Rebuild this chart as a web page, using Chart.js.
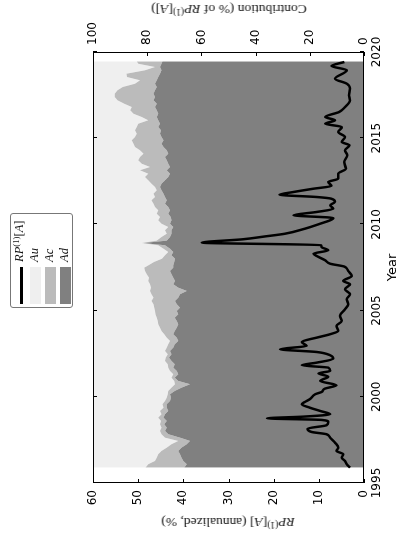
<!DOCTYPE html>
<html>
<head>
<meta charset="utf-8">
<script src="https://cdn.jsdelivr.net/npm/chart.js@4.4.0/dist/chart.umd.min.js"></script>
<style>
  html, body { margin: 0; padding: 0; background: #fff; overflow: hidden; }
  /* the figure is drawn landscape and then turned a quarter turn */
  #wrap { position: absolute; left: 0; top: 0; width: 537px; height: 400px;
          transform-origin: 0 0; transform: translate(0, 537px) rotate(-90deg); }
  #chart { position: absolute; left: 0; top: 0; }
  .serif { font-family: "Liberation Serif", "DejaVu Serif", serif; color: #111; white-space: nowrap; font-weight: normal; }
  .axtitle { position: absolute; font-size: 13.5px; transform: translate(-50%, -50%) rotate(-90deg); }
  sup { font-size: 70%; vertical-align: 0.45em; line-height: 0; }
  #legend { position: absolute; left: 229px; top: 10px; width: 95px; height: 63px;
            border: 1px solid #777; border-radius: 3px; box-sizing: border-box; background: #fff; }
  .row { position: absolute; left: 3px; height: 12px; }
  .row .h { position: absolute; left: 0; width: 37px; }
  .row .lab { position: absolute; left: 42px; top: -3px; font-size: 12.5px; }
</style>
</head>
<body>
<div id="wrap">
  <canvas id="chart" width="537" height="400"></canvas>
  <div class="serif axtitle" style="left:15px; top:228px;"><i>RP</i><sup>(1)</sup>[<i>A</i>] (annualized, %)</div>
  <div class="serif axtitle" style="left:528px; top:229px;">Contribution (% of <i>RP</i><sup>(1)</sup>[<i>A</i>])</div>
  <div id="legend" class="serif">
    <div class="row" style="top:4px;"><span class="h" style="top:5px; height:3px; background:#000;"></span><span class="lab"><i>RP</i><sup>(1)</sup>[<i>A</i>]</span></div>
    <div class="row" style="top:19px;"><span class="h" id="swAu" style="top:0; height:11px;"></span><span class="lab"><i>Au</i></span></div>
    <div class="row" style="top:34px;"><span class="h" id="swAc" style="top:0; height:11px;"></span><span class="lab"><i>Ac</i></span></div>
    <div class="row" style="top:49px;"><span class="h" id="swAd" style="top:0; height:11px;"></span><span class="lab"><i>Ad</i></span></div>
  </div>
</div>
<script>
// RP(1)[A], annualized %
const lineYears = [1995.89, 1996.09, 1996.28, 1996.47, 1996.67, 1996.86, 1997.05, 1997.34, 1997.63, 1997.83,
  1997.96, 1998.15, 1998.35, 1998.54, 1998.66, 1998.75, 1998.85, 1998.99, 1999.18, 1999.37,
  1999.57, 1999.70, 1999.86, 2000.15, 2000.28, 2000.47, 2000.67, 2000.92, 2001.17, 2001.36,
  2001.50, 2001.69, 2001.83, 2001.98, 2002.21, 2002.41, 2002.60, 2002.76, 2002.95, 2003.18,
  2003.43, 2003.63, 2003.82, 2004.11, 2004.40, 2004.69, 2005.08, 2005.37, 2005.66, 2005.95,
  2006.24, 2006.53, 2006.72, 2007.01, 2007.30, 2007.55, 2007.72, 2007.92, 2008.17, 2008.30,
  2008.50, 2008.69, 2008.80, 2008.94, 2009.14, 2009.30, 2009.46, 2009.75, 2010.04, 2010.24,
  2010.37, 2010.53, 2010.72, 2010.91, 2011.11, 2011.30, 2011.49, 2011.59, 2011.72, 2011.88,
  2012.07, 2012.23, 2012.46, 2012.65, 2012.94, 2013.23, 2013.62, 2014.01, 2014.30, 2014.59,
  2014.78, 2015.07, 2015.36, 2015.65, 2015.84, 2016.04, 2016.23, 2016.52, 2016.81, 2017.20,
  2017.49, 2017.87, 2018.16, 2018.45, 2018.94, 2019.19, 2019.42];
const rpValues = [3.1, 3.8, 4.2, 4.9, 4.6, 6.1, 5.7, 6.4, 7.5, 8.3,
  11.6, 12.5, 8.3, 7.9, 9.4, 21.5, 13.4, 7.5, 9.7, 12.0,
  13.8, 13.1, 12.0, 10.8, 9.4, 8.7, 6.1, 9.7, 7.9, 10.1,
  7.5, 7.9, 13.8, 10.5, 6.8, 7.5, 10.5, 18.6, 12.7, 13.8,
  10.5, 7.5, 5.7, 6.1, 4.9, 5.3, 4.2, 3.5, 3.8, 3.1,
  4.2, 3.1, 4.6, 2.7, 3.5, 4.3, 7.5, 8.6, 10.5, 11.2,
  7.9, 9.4, 9.5, 35.9, 26.7, 22.0, 17.5, 13.1, 9.7, 7.5,
  6.8, 15.6, 10.5, 6.8, 7.5, 6.4, 7.2, 10.5, 18.7, 15.6,
  11.2, 7.2, 7.9, 5.7, 5.7, 4.0, 4.4, 3.7, 4.2, 3.2,
  4.9, 4.2, 5.7, 4.9, 8.6, 6.4, 8.6, 5.5, 4.2, 3.1,
  3.3, 3.1, 3.8, 6.4, 3.8, 7.2, 4.35];

// contributions, % of RP(1)[A]
const areaYears = [1995.89, 1996.09, 1996.28, 1996.47, 1996.67, 1996.86, 1997.05, 1997.25, 1997.44, 1997.63,
  1997.83, 1998.02, 1998.21, 1998.41, 1998.60, 1998.79, 1998.99, 1999.18, 1999.37, 1999.57,
  1999.76, 1999.95, 2000.15, 2000.34, 2000.53, 2000.73, 2000.92, 2001.11, 2001.31, 2001.50,
  2001.69, 2001.89, 2002.08, 2002.27, 2002.47, 2002.66, 2002.85, 2003.05, 2003.24, 2003.43,
  2003.63, 2003.82, 2004.01, 2004.21, 2004.40, 2004.59, 2004.79, 2004.98, 2005.17, 2005.37,
  2005.56, 2005.75, 2005.95, 2006.14, 2006.33, 2006.53, 2006.72, 2006.91, 2007.11, 2007.30,
  2007.49, 2007.63, 2007.82, 2008.01, 2008.21, 2008.40, 2008.59, 2008.79, 2008.92, 2009.06,
  2009.27, 2009.46, 2009.66, 2009.85, 2010.04, 2010.24, 2010.43, 2010.62, 2010.82, 2011.01,
  2011.20, 2011.40, 2011.59, 2011.78, 2011.98, 2012.17, 2012.36, 2012.56, 2012.75, 2012.94,
  2013.14, 2013.33, 2013.52, 2013.72, 2013.91, 2014.10, 2014.30, 2014.49, 2014.68, 2014.88,
  2015.07, 2015.26, 2015.46, 2015.65, 2015.84, 2016.04, 2016.23, 2016.42, 2016.62, 2016.81,
  2017.00, 2017.20, 2017.39, 2017.58, 2017.78, 2017.97, 2018.16, 2018.36, 2018.55, 2018.74,
  2018.94, 2019.13, 2019.32, 2019.46];
const Ad = [66.3, 65.4, 66.7, 67.3, 67.9, 68.5, 67.3, 65.4, 64.2, 67.9,
  72.2, 73.4, 72.8, 73.7, 72.8, 74.0, 73.4, 72.2, 72.8, 72.8,
  71.6, 71.2, 71.6, 69.8, 67.3, 64.2, 68.5, 69.8, 68.5, 69.1,
  70.4, 69.8, 71.0, 72.0, 71.0, 71.6, 70.4, 69.8, 68.5, 69.1,
  70.4, 69.8, 69.1, 68.5, 69.1, 69.8, 68.5, 69.1, 67.9, 69.1,
  69.7, 68.5, 67.9, 65.4, 68.5, 70.4, 69.7, 70.4, 71.0, 71.6,
  70.4, 70.4, 70.0, 69.7, 71.0, 70.4, 71.6, 73.4, 81.4, 72.8,
  71.6, 71.0, 71.0, 70.4, 71.6, 71.0, 71.3, 72.2, 71.6, 72.2,
  73.4, 72.8, 73.4, 74.0, 74.7, 75.3, 74.7, 73.4, 72.2, 71.6,
  72.8, 71.6, 72.2, 72.8, 73.4, 72.2, 72.8, 74.0, 74.7, 74.0,
  74.7, 75.3, 74.9, 75.9, 75.3, 75.9, 76.5, 75.9, 76.5, 77.1,
  76.5, 77.7, 77.1, 77.7, 77.1, 76.5, 77.1, 76.5, 75.9, 75.3,
  74.7, 75.3, 74.7, 74.4];
const Ac = [14.3, 14.2, 10.4, 9.2, 8.0, 6.2, 5.5, 5.6, 4.3, 5.5,
  2.5, 1.9, 1.9, 1.6, 2.1, 1.9, 1.3, 3.1, 1.2, 1.6,
  1.8, 1.6, 0.8, 2.4, 3.7, 5.5, 1.5, 1.2, 1.9, 2.5,
  1.8, 2.6, 2.4, 1.2, 1.4, 1.8, 2.4, 2.4, 3.1, 3.7,
  3.3, 4.9, 6.2, 7.4, 7.0, 6.7, 8.4, 8.0, 9.5, 8.6,
  8.7, 9.2, 10.5, 13.6, 10.1, 8.6, 9.9, 8.9, 9.2, 9.2,
  10.7, 9.1, 7.5, 4.8, 2.4, 1.8, 2.4, 2.5, 0.6, 3.7,
  3.1, 1.8, 2.4, 1.8, 3.1, 4.9, 4.0, 4.3, 4.3, 4.9,
  4.3, 5.6, 3.7, 3.7, 1.8, 1.8, 3.7, 6.2, 8.6, 8.0,
  9.9, 7.4, 9.8, 10.5, 9.3, 9.2, 9.9, 10.5, 10.4, 11.7,
  9.8, 8.6, 9.6, 8.0, 8.0, 3.7, 5.5, 9.2, 9.8, 8.6,
  12.0, 13.3, 14.9, 14.3, 13.9, 12.5, 7.4, 6.2, 11.6, 12.3,
  6.1, 1.8, 8.6, 9.5];
const Au = [19.4, 20.4, 22.9, 23.5, 24.1, 25.3, 27.2, 29.0, 31.5, 26.6,
  25.3, 24.7, 25.3, 24.7, 25.1, 24.1, 25.3, 24.7, 26.0, 25.6,
  26.6, 27.2, 27.6, 27.8, 29.0, 30.3, 30.0, 29.0, 29.6, 28.4,
  27.8, 27.6, 26.6, 26.8, 27.6, 26.6, 27.2, 27.8, 28.4, 27.2,
  26.3, 25.3, 24.7, 24.1, 23.9, 23.5, 23.1, 22.9, 22.6, 22.3,
  21.6, 22.3, 21.6, 21.0, 21.4, 21.0, 20.4, 20.7, 19.8, 19.2,
  18.9, 20.5, 22.5, 25.5, 26.6, 27.8, 26.0, 24.1, 18.0, 23.5,
  25.3, 27.2, 26.6, 27.8, 25.3, 24.1, 24.7, 23.5, 24.1, 22.9,
  22.3, 21.6, 22.9, 22.3, 23.5, 22.9, 21.6, 20.4, 19.2, 20.4,
  17.3, 21.0, 18.0, 16.7, 17.3, 18.6, 17.3, 15.5, 14.9, 14.3,
  15.5, 16.1, 15.5, 16.1, 16.7, 20.4, 18.0, 14.9, 13.7, 14.3,
  11.5, 9.0, 8.0, 8.0, 9.0, 11.0, 15.5, 17.3, 12.5, 12.4,
  19.2, 22.9, 16.7, 16.1];

const colAu = '#efefef';
const colAc = '#bbbbbb';
const colAd = '#808080';
document.getElementById('swAu').style.background = colAu;
document.getElementById('swAc').style.background = colAc;
document.getElementById('swAd').style.background = colAd;

const tickFont = { family: 'DejaVu Sans', size: 12 };
const pts = (xs, ys) => xs.map((x, i) => ({ x: x, y: ys[i] }));

// frame and inward tick marks, like the original figure
const frameTicks = {
  id: 'frameTicks',
  afterDraw(chart) {
    const { ctx, chartArea: a, scales } = chart;
    ctx.save();
    ctx.strokeStyle = '#000';
    ctx.lineWidth = 1;
    ctx.strokeRect(a.left + 0.5, a.top + 0.5, a.right - a.left - 1, a.bottom - a.top - 1);
    ctx.beginPath();
    scales.x.ticks.forEach(t => {
      const p = Math.round(scales.x.getPixelForValue(t.value)) + 0.5;
      ctx.moveTo(p, a.bottom); ctx.lineTo(p, a.bottom - 4);
      ctx.moveTo(p, a.top); ctx.lineTo(p, a.top + 4);
    });
    scales.y.ticks.forEach(t => {
      const p = Math.round(scales.y.getPixelForValue(t.value)) + 0.5;
      ctx.moveTo(a.left, p); ctx.lineTo(a.left + 4, p);
    });
    scales.y2.ticks.forEach(t => {
      const p = Math.round(scales.y2.getPixelForValue(t.value)) + 0.5;
      ctx.moveTo(a.right, p); ctx.lineTo(a.right - 4, p);
    });
    ctx.stroke();
    ctx.restore();
  }
};

new Chart(document.getElementById('chart'), {
  type: 'line',
  data: {
    datasets: [
      { label: 'RP', data: pts(lineYears, rpValues), yAxisID: 'y', borderColor: '#000', borderWidth: 2.5,
        pointRadius: 0, fill: false, cubicInterpolationMode: 'monotone' },
      { label: 'Ad', data: pts(areaYears, Ad), yAxisID: 'y2', backgroundColor: colAd, borderWidth: 0,
        pointRadius: 0, fill: 'origin' },
      { label: 'Ac', data: pts(areaYears, Ac), yAxisID: 'y2', backgroundColor: colAc, borderWidth: 0,
        pointRadius: 0, fill: '-1' },
      { label: 'Au', data: pts(areaYears, Au), yAxisID: 'y2', backgroundColor: colAu, borderWidth: 0,
        pointRadius: 0, fill: '-1' }
    ]
  },
  options: {
    responsive: false,
    animation: false,
    devicePixelRatio: 1,
    layout: { padding: { top: 93, left: 0, right: 0, bottom: 0 } },
    plugins: { legend: { display: false }, tooltip: { enabled: false } },
    scales: {
      x: {
        type: 'linear', min: 1995, max: 2020,
        ticks: { stepSize: 5, font: tickFont, color: '#000', padding: 6, maxRotation: 0, callback: v => String(v) },
        grid: { display: false, drawTicks: false },
        border: { display: false },
        title: { display: true, text: 'Year', font: { family: 'DejaVu Sans', size: 13 }, color: '#000', padding: 0 },
        afterFit: s => { s.height = 36; }
      },
      y: {
        position: 'left', min: 0, max: 60,
        ticks: { stepSize: 10, font: tickFont, color: '#000', padding: 7, callback: v => String(v) },
        grid: { display: false, drawTicks: false },
        border: { display: false },
        afterFit: s => { s.width = 54; }
      },
      y2: {
        position: 'right', min: 0, max: 100, stacked: true,
        ticks: { stepSize: 20, font: tickFont, color: '#000', padding: 7, callback: v => String(v) },
        grid: { display: false, drawTicks: false },
        border: { display: false },
        afterFit: s => { s.width = 52; }
      }
    }
  },
  plugins: [frameTicks]
});
</script>
</body>
</html>
